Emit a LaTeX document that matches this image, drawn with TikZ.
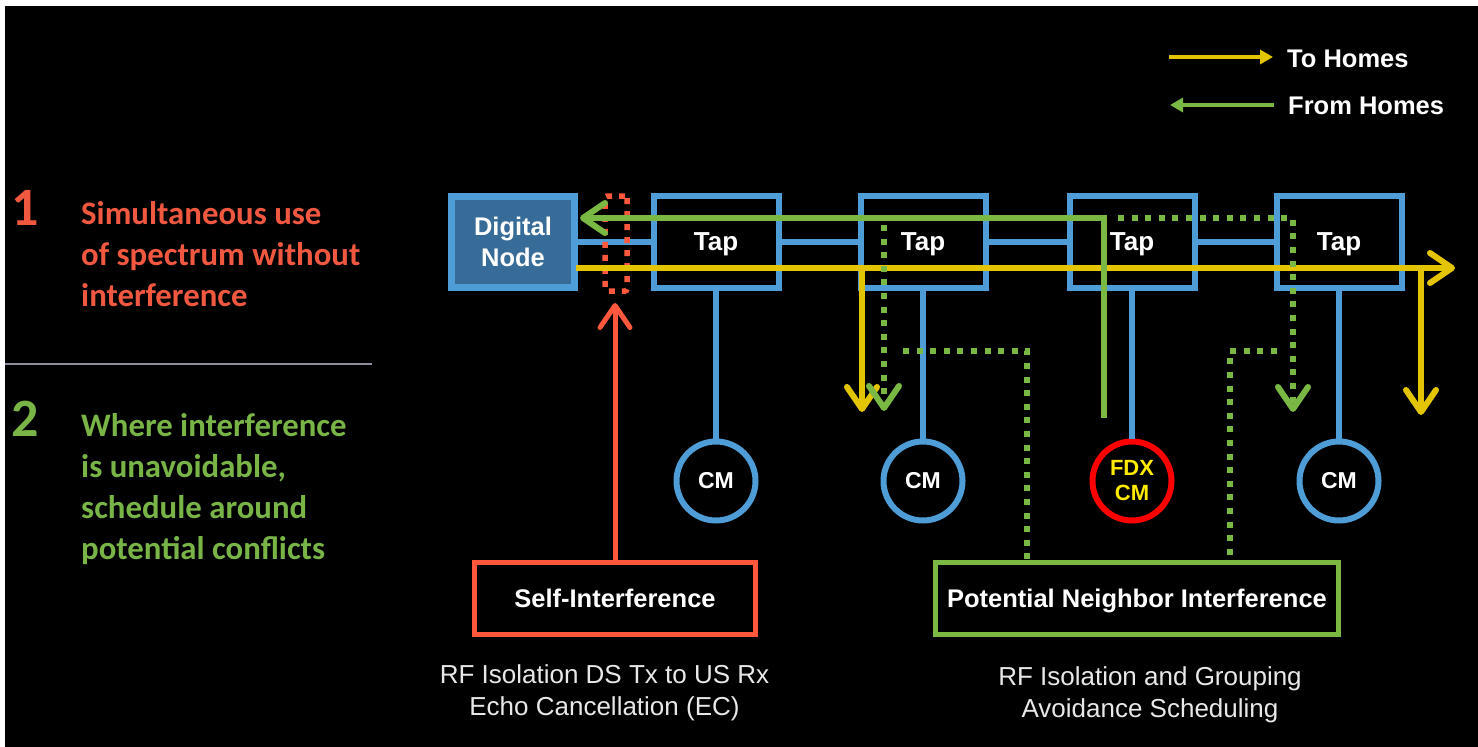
\documentclass[tikz,border=0pt]{standalone}
\usepackage{fontspec}
\setmainfont{Liberation Sans}
\newfontfamily\calib{Carlito}
\usetikzlibrary{arrows.meta}
\definecolor{cblue}{RGB}{79,157,214}
\definecolor{cdn}{RGB}{56,108,152}
\definecolor{cyellow}{RGB}{226,196,0}
\definecolor{cgreen}{RGB}{120,184,67}
\definecolor{cred}{RGB}{255,88,60}
\definecolor{ctred}{RGB}{240,88,64}
\definecolor{ctgreen}{RGB}{120,180,70}
\definecolor{fdxred}{RGB}{255,0,0}
\definecolor{fdxyel}{RGB}{255,235,0}
\definecolor{capgray}{RGB}{232,232,232}
\definecolor{sepgray}{RGB}{140,140,155}
\begin{document}
\begin{tikzpicture}[x=1pt,y=-1pt,
  bl/.style={draw=cblue,line width=6pt},
  tapbox/.style={draw=cblue,line width=6pt,minimum width=125pt,minimum height=92pt,inner sep=0pt,text=white,font=\bfseries\fontsize{26}{31}\selectfont,text depth=0pt},
  cmnode/.style={circle,draw=cblue,line width=6pt,minimum size=79pt,inner sep=0pt,text=white,font=\bfseries\fontsize{23}{25}\selectfont},
  yl/.style={draw=cyellow,line width=6pt},
  gl/.style={draw=cgreen,line width=6pt},
  chev/.style={-{Straight Barb[length=22pt,width=30pt,line cap=round,line join=round]}},
  dots/.style={draw=cgreen,line width=6pt,dash pattern=on 6pt off 7.6pt},
  lbox/.style={line width=5pt,minimum height=72pt,inner sep=0pt,text=white,font=\bfseries\fontsize{25.5}{30}\selectfont,text depth=0pt},
  captxt/.style={text=capgray,font=\fontsize{26}{32}\selectfont,align=center,anchor=base,inner sep=0pt},
  leg/.style={text=white,font=\bfseries\fontsize{25.5}{30}\selectfont,anchor=base west,inner sep=0pt},
  lefttxt/.style={font=\calib\bfseries\fontsize{32.8}{41}\selectfont,align=left,anchor=base west,inner sep=0pt},
  num/.style={font=\calib\bfseries\fontsize{54}{54}\selectfont,anchor=base west,inner sep=0pt},
]
\useasboundingbox (0,0) rectangle (1478,747);
\fill[white] (0,0) rectangle (1478,747);
\fill[black] (5,6) rectangle (1478,747);

% left texts (base anchor = baseline of last line)
\node[num,text=ctred] (n1) at (11,225) {1};
\node[lefttxt,text=ctred] (t1) at (81,306) {Simultaneous use\\of spectrum without\\interference};
\draw[sepgray,line width=1.5pt] (5,364) -- (372,364);
\node[num,text=ctgreen] (n2) at (11,436) {2};
\node[lefttxt,text=ctgreen] (t2) at (81,559) {Where interference\\is unavoidable,\\schedule around\\potential conflicts};

% legend
\coordinate (ly1) at (1169,57);
\coordinate (ly2) at (1273,57);
\coordinate (lg1) at (1274,105);
\coordinate (lg2) at (1170,105);
\draw[draw=cyellow,line width=4.5pt,-{Triangle[length=13pt,width=14pt]}] (ly1) -- (ly2);
\draw[draw=cgreen,line width=4.5pt,-{Triangle[length=13pt,width=14pt]}] (lg1) -- (lg2);
\node[leg] (lt1) at (1287,67) {To Homes};
\node[leg] (lt2) at (1288,114) {From Homes};

% digital node and taps
\node[draw=cblue,fill=cdn,line width=7pt,minimum width=123pt,minimum height=91pt,inner sep=0pt,text=white,align=center,font=\bfseries\fontsize{25.5}{31}\selectfont] (dn) at (513,242) {Digital\\Node};
\node[tapbox] (tap1) at (716,242) {Tap};
\node[tapbox] (tap2) at (923,242) {Tap};
\node[tapbox] (tap3) at (1132,242) {Tap};
\node[tapbox] (tap4) at (1339,242) {Tap};
\draw[bl] (dn.east) -- (tap1.west);
\draw[bl] (tap1.east) -- (tap2.west);
\draw[bl] (tap2.east) -- (tap3.west);
\draw[bl] (tap3.east) -- (tap4.west);

% CMs
\node[cmnode] (cm1) at (716,481) {CM};
\node[cmnode] (cm2) at (923,481) {CM};
\node[cmnode,draw=fdxred,text=fdxyel,align=center,font=\bfseries\fontsize{22}{25}\selectfont] (fdx) at (1132,481) {FDX\\CM};
\node[cmnode] (cm4) at (1339,481) {CM};
\draw[bl] (tap1.south) -- (cm1.north);
\draw[bl] (tap2.south) -- (cm2.north);
\draw[bl] (tap3.south) -- (fdx.north);
\draw[bl] (tap4.south) -- (cm4.north);

% self-interference dotted rectangle
\node[draw=cred,line width=5.5pt,dash pattern=on 6pt off 7pt,rounded corners=2pt,minimum width=22pt,minimum height=95pt,inner sep=0pt] (sir) at (616,243.5) {};

% yellow downstream
\coordinate (ys) at (576,268);
\coordinate (ye) at (1455,268);
\coordinate (yb1) at (862,268);
\coordinate (yd1) at (862,412);
\coordinate (yb2) at (1421,268);
\coordinate (yd2) at (1421,415);
\draw[yl,chev] (ys) -- (ye);
\draw[yl,chev] (yb1) -- (yd1);
\draw[yl,chev] (yb2) -- (yd2);

% green upstream
\coordinate (gs) at (1104,418);
\coordinate (gc) at (1104,218);
\coordinate (ge) at (580,218);
\draw[gl,chev] (gs) -- (gc) -- (ge);

% green dotted
\coordinate (d1s) at (884,225);
\coordinate (d1e) at (884,411);
\draw[dots,chev] (d1s) -- (d1e);
\coordinate (d2s) at (1118,218);
\coordinate (d2c) at (1293,218);
\coordinate (d2e) at (1293,412);
\draw[dots,chev] (d2s) -- (d2c) -- (d2e);

% bottom boxes
\node[lbox,draw=cred,minimum width=281pt] (self) at (615,598.5) {Self-Interference};
\node[lbox,draw=cgreen,minimum width=403pt] (pn) at (1137,598.5) {Potential Neighbor Interference};
\coordinate (ra) at (615,303);
\draw[draw=cred,line width=5pt,chev] (self.north) -- (ra);

\coordinate (e1s) at (903,351);
\coordinate (e1c) at (1027,351);
\draw[dots] (e1s) -- (e1c) -- (e1c |- pn.north);
\coordinate (e2s) at (1277,351);
\coordinate (e2c) at (1230,351);
\draw[dots] (e2s) -- (e2c) -- (e2c |- pn.north);

% captions (base anchor = baseline of last line)
\node[captxt] (c1) at (604.5,715) {RF Isolation DS Tx to US Rx\\Echo Cancellation (EC)};
\node[captxt] (c2) at (1150,717) {RF Isolation and Grouping\\Avoidance Scheduling};
\end{tikzpicture}
\end{document}
